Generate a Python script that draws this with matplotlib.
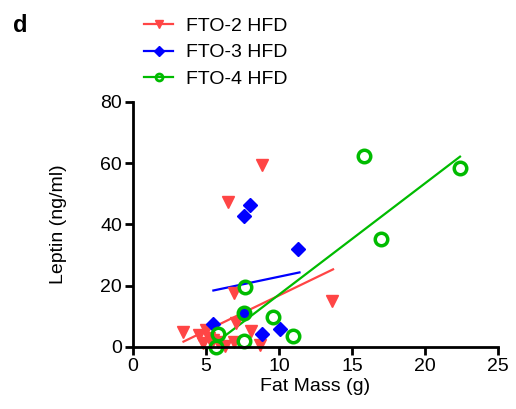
import matplotlib
matplotlib.use("Agg")
import matplotlib.pyplot as plt
from matplotlib.lines import Line2D

plt.rcParams['font.family'] = ['Liberation Sans', 'DejaVu Sans']

# FTO-2 HFD (red triangles)
fto2_x = [3.4, 4.5, 5.0, 5.2, 4.8, 5.5, 5.8, 6.3, 6.9, 7.05, 6.9, 6.5, 8.8, 8.1, 8.7, 13.6]
fto2_y = [4.7, 3.9, 5.5, 2.8, 1.2, 2.3, 1.5, 0.3, 1.7, 7.7, 17.7, 47.2, 59.4, 5.3, 0.65, 15.0]
fto2_fit_x = [3.45, 13.7]
fto2_fit_y = [1.7, 25.3]

# FTO-3 HFD (blue diamonds)
fto3_x = [5.46, 7.6, 7.6, 8.0, 8.86, 10.07, 11.3]
fto3_y = [7.4, 11.0, 42.8, 46.3, 4.1, 5.9, 31.9]
fto3_fit_x = [5.5, 11.4]
fto3_fit_y = [18.4, 24.3]

# FTO-4 HFD (green open circles)
fto4_x = [5.68, 5.85, 7.6, 7.6, 7.67, 9.6, 10.98, 15.8, 17.0, 22.4]
fto4_y = [0.1, 4.2, 2.0, 11.0, 19.4, 9.7, 3.6, 62.3, 35.3, 58.3]
fto4_fit_x = [5.77, 22.4]
fto4_fit_y = [1.7, 62.1]

red = '#ff4545'
blue = '#0000ff'
green = '#00bb00'

fig = plt.figure(figsize=(5.16, 4.09), dpi=100)
ax = fig.add_axes([0.258, 0.152, 0.707, 0.599])

ax.plot(fto2_fit_x, fto2_fit_y, color=red, lw=1.6)
ax.plot(fto3_fit_x, fto3_fit_y, color=blue, lw=1.6)
ax.plot(fto4_fit_x, fto4_fit_y, color=green, lw=1.6)

ax.plot(fto2_x, fto2_y, 'v', color=red, ms=8, ls='none', clip_on=False)
ax.plot(fto3_x, fto3_y, 'D', color=blue, ms=7, ls='none', clip_on=False)
ax.plot(fto4_x, fto4_y, 'o', mfc='none', mec=green, mew=2.5, ms=9, ls='none', clip_on=False)

ax.set_xlim(0, 25)
ax.set_ylim(0, 80)
ax.set_xticks([0, 5, 10, 15, 20, 25])
ax.set_yticks([0, 20, 40, 60, 80])
for s in ['top', 'right']:
    ax.spines[s].set_visible(False)
for s in ['left', 'bottom']:
    ax.spines[s].set_linewidth(2)
ax.tick_params(direction='out', length=6, width=2, labelsize=14, pad=2)
ax.set_xlabel('Fat Mass (g)', fontsize=14, labelpad=2)
ax.set_ylabel('Leptin (ng/ml)', fontsize=14, labelpad=24)

handles = [
    Line2D([], [], color=red, marker='v', ms=6, lw=1.6),
    Line2D([], [], color=blue, marker='D', ms=5, lw=1.6),
    Line2D([], [], color=green, marker='o', mfc='none', mew=2, ms=5, lw=1.6),
]
fig.legend(handles, ['FTO-2 HFD', 'FTO-3 HFD', 'FTO-4 HFD'],
           loc='upper left', bbox_to_anchor=(0.245, 1.0), frameon=False,
           fontsize=14, handlelength=1.5, labelspacing=0.45, handletextpad=0.65)

fig.text(0.025, 0.965, 'd', fontsize=17, fontweight='bold', va='top')

fig.savefig('out.png', dpi=100)
